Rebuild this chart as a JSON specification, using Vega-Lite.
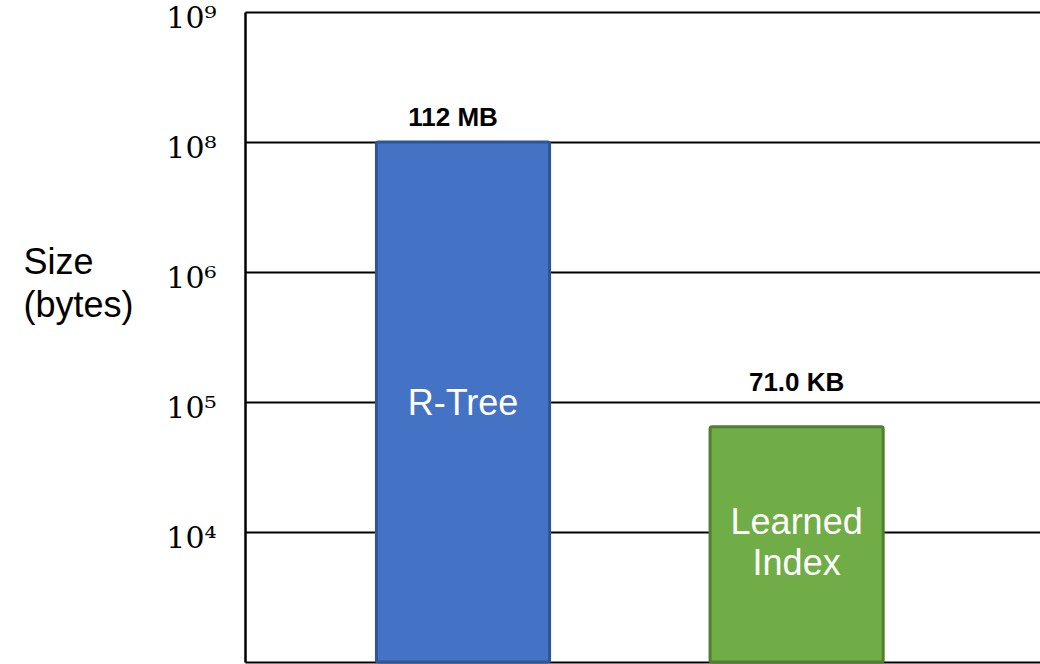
{
  "$schema": "https://vega.github.io/schema/vega-lite/v6.json",
  "width": 795,
  "height": 650,
  "autosize": "none",
  "padding": {"left": 245, "top": 12, "right": 0, "bottom": 2},
  "background": "white",
  "config": {"view": {"stroke": null}},
  "data": {
    "values": [
      {"index": "R-Tree", "inner": "R-Tree", "level": 7.0, "size": "112 MB"},
      {"index": "Learned Index", "inner": "Learned\nIndex", "level": 4.81, "size": "71.0 KB"}
    ]
  },
  "encoding": {
    "x": {
      "field": "index",
      "type": "nominal",
      "sort": null,
      "scale": {"paddingInner": 0.481, "paddingOuter": 0.432, "align": 0.456},
      "axis": {"domain": true, "domainColor": "black", "domainWidth": 2, "labels": false, "ticks": false, "title": null, "grid": false}
    },
    "y": {
      "field": "level",
      "type": "quantitative",
      "scale": {"domain": [3, 8], "nice": false, "zero": false},
      "axis": {
        "values": [4, 5, 6, 7, 8],
        "grid": true,
        "gridColor": "black",
        "gridWidth": 2,
        "gridOpacity": 1,
        "domain": true,
        "domainColor": "black",
        "domainWidth": 2.5,
        "ticks": false,
        "labelExpr": "datum.value == 4 ? '10⁴' : datum.value == 5 ? '10⁵' : datum.value == 6 ? '10⁶' : datum.value == 7 ? '10⁸' : '10⁹'",
        "labelFont": "DejaVu Serif",
        "labelFontSize": 30,
        "labelColor": "black",
        "labelPadding": 29,
        "labelBaseline": "alphabetic",
        "labelOffset": 15,
        "labelFlush": false,
        "labelOverlap": false,
        "title": ["Size", "(bytes)"],
        "titleAngle": 0,
        "titleFont": "Liberation Sans",
        "titleFontSize": 36,
        "titleFontWeight": "normal",
        "titleAlign": "left",
        "titleBaseline": "middle",
        "titleX": -222,
        "titleY": 250,
        "titleLineHeight": 43,
        "titleColor": "black"
      }
    }
  },
  "layer": [
    {
      "mark": {"type": "bar", "strokeWidth": 3, "cornerRadius": 2},
      "encoding": {
        "y2": {"datum": 3},
        "color": {"field": "index", "type": "nominal", "scale": {"domain": ["R-Tree", "Learned Index"], "range": ["#4472C4", "#70AD47"]}, "legend": null},
        "stroke": {"field": "index", "type": "nominal", "scale": {"domain": ["R-Tree", "Learned Index"], "range": ["#2F5597", "#507E32"]}, "legend": null}
      }
    },
    {
      "transform": [{"filter": "datum.index == 'R-Tree'"}],
      "mark": {"type": "text", "font": "Liberation Sans", "fontSize": 36, "color": "white", "baseline": "middle", "align": "center", "dy": 262},
      "encoding": {"text": {"field": "inner"}}
    },
    {
      "transform": [{"filter": "datum.index == 'Learned Index'"}],
      "mark": {"type": "text", "font": "Liberation Sans", "fontSize": 36, "color": "white", "lineBreak": "\n", "lineHeight": 41, "baseline": "middle", "align": "center", "dy": 96},
      "encoding": {"text": {"field": "inner"}}
    },
    {
      "transform": [{"filter": "datum.index == 'R-Tree'"}],
      "mark": {"type": "text", "font": "Liberation Sans", "fontSize": 26, "fontWeight": "bold", "color": "black", "baseline": "middle", "align": "center", "dx": -10, "dy": -24},
      "encoding": {"text": {"field": "size"}}
    },
    {
      "transform": [{"filter": "datum.index == 'Learned Index'"}],
      "mark": {"type": "text", "font": "Liberation Sans", "fontSize": 26, "fontWeight": "bold", "color": "black", "baseline": "middle", "align": "center", "dy": -44},
      "encoding": {"text": {"field": "size"}}
    }
  ]
}
